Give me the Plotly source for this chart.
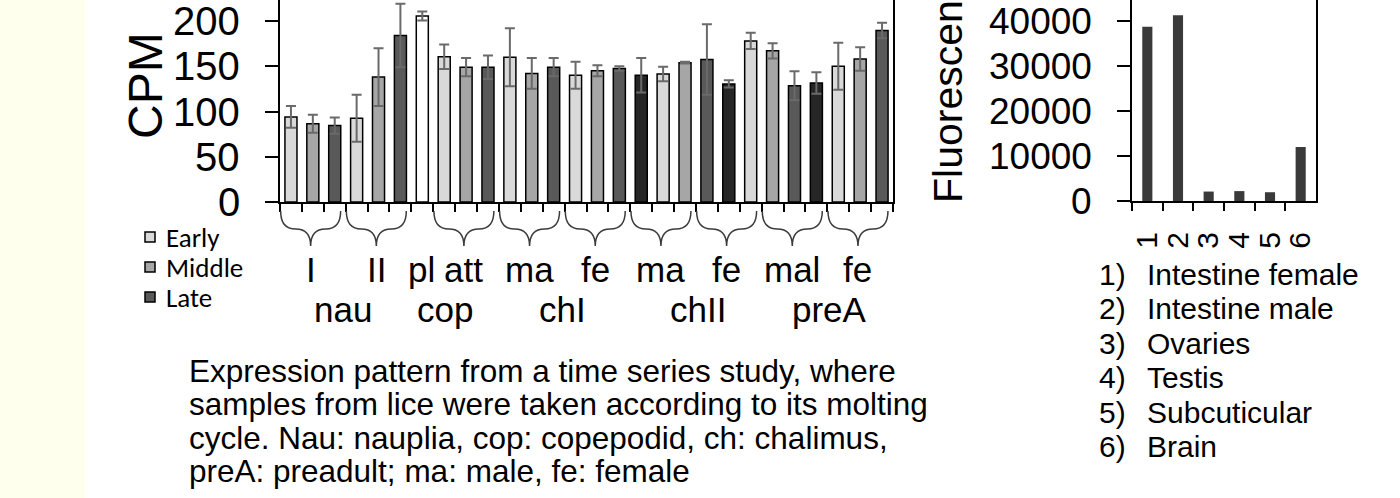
import plotly.graph_objects as go

W, H = 1400, 498

# ---------------- data ----------------
# 28 bars of the time series (CPM), with error bars
cpm_values = [94, 86.5, 84.5, 92.5, 138, 184, 205.5, 160.5, 149, 149,
              160, 142, 149, 140, 145, 147.5, 140, 141.5, 154, 157.5,
              130.5, 178, 167, 128.5, 131.5, 150, 158, 189.5]
cpm_errors = [12, 10, 9, 26, 32, 35, 5, 13.5, 10, 13,
              32, 17, 10, 15, 6, 2.5, 19, 8, 1, 39,
              4, 9, 8.5, 16, 12, 26, 13, 8.5]
# shade class of each bar: E=Early, M=Middle, L=Late, W=white, D=darkest
bar_shade = ["E", "M", "L", "E", "M", "L", "W", "E", "M", "L",
             "E", "M", "L", "E", "M", "L", "D", "E", "M", "L",
             "D", "E", "M", "L", "D", "E", "M", "L"]
legend_codes = ["E", "M", "L"]
legend_names = ["Early", "Middle", "Late"]
cpm_ticks = [0, 50, 100, 150, 200]

# sub-groups: (label, first bar index, number of bars)
sub_groups = [("I", 0, 3), ("II", 3, 3), ("pl", 6, 1), ("att", 7, 3),
              ("ma", 10, 3), ("fe", 13, 3), ("ma", 16, 3), ("fe", 19, 3),
              ("mal", 22, 3), ("fe", 25, 3)]
group_labels = ["nau", "cop", "chI", "chII", "preA"]

caption_lines = [
    "Expression pattern from a time series study, where",
    "samples from lice were taken according to its molting",
    "cycle. Nau: nauplia, cop: copepodid, ch: chalimus,",
    "preA: preadult; ma: male, fe: female",
]

tissue_ids = ["1", "2", "3", "4", "5", "6"]
tissue_names = ["Intestine female", "Intestine male", "Ovaries", "Testis",
                "Subcuticular", "Brain"]
fluorescence = [38700, 41300, 2100, 2200, 1950, 12000]
fluo_ticks = [0, 10000, 20000, 30000, 40000]

# ---------------- styles ----------------
shade_color = {"E": "#D9D9D9", "M": "#A6A6A6", "L": "#595959",
               "W": "#FFFFFF", "D": "#262626"}
ARIAL = "Liberation Sans, Arial, sans-serif"
CALIBRI = "Carlito, Lato, sans-serif"


def px(xp):
    return xp / W


def py(yp):
    return (H - yp) / H


fig = go.Figure()

for code in ["E", "M", "L", "W", "D"]:
    idx = [i for i, s in enumerate(bar_shade) if s == code]
    fig.add_trace(go.Bar(
        x=idx,
        y=[cpm_values[i] for i in idx],
        error_y=dict(type="data", array=[cpm_errors[i] for i in idx],
                     color="#6A6A6A", thickness=2, width=5),
        width=0.55,
        marker=dict(color=shade_color[code], line=dict(color="#000000", width=1.5)),
        name=code, showlegend=False,
        xaxis="x", yaxis="y",
    ))

fig.add_trace(go.Bar(
    x=tissue_ids, y=fluorescence, width=0.33,
    marker=dict(color="#3A3A3A", line=dict(width=0)),
    showlegend=False, xaxis="x2", yaxis="y2",
))

n_bars = len(cpm_values)
fig.update_layout(
    width=W, height=H, autosize=False, showlegend=False,
    margin=dict(l=0, r=0, t=0, b=0, pad=0, autoexpand=False),
    paper_bgcolor="white", plot_bgcolor="white",
    barmode="overlay",
    font=dict(family=ARIAL, color="#000000"),
    xaxis=dict(domain=[px(280), px(893)], range=[-0.5, n_bars - 0.5],
               tickvals=[i - 0.5 for i in range(n_bars + 1)], showticklabels=False,
               ticks="outside", ticklen=8, tickwidth=1.5, tickcolor="#000",
               showline=True, linecolor="#000", linewidth=2, automargin=False,
               showgrid=False, zeroline=False, fixedrange=True),
    yaxis=dict(domain=[py(202), 1], range=[0, 223.2],
               tickvals=cpm_ticks, showticklabels=False,
               ticks="outside", ticklen=13, tickwidth=2, tickcolor="#000",
               automargin=False,
               showline=True, mirror=True, linecolor="#000", linewidth=2,
               showgrid=False, zeroline=False),
    xaxis2=dict(domain=[px(1132), px(1316)], anchor="y2", type="category",
                tickmode="array", tickvals=tissue_ids, ticktext=tissue_ids,
                tickson="boundaries", ticks="outside", ticklen=8, tickwidth=1.5,
                tickcolor="#000", tickangle=-90, ticklabelstandoff=17,
                tickfont=dict(size=30, family=ARIAL), automargin=False,
                ticklabeloverflow="allow",
                showline=True, linecolor="#000", linewidth=2,
                showgrid=False, zeroline=False),
    yaxis2=dict(domain=[py(201), 1], anchor="x2", range=[0, 44667],
                tickvals=fluo_ticks, showticklabels=False,
                ticks="outside", ticklen=13, tickwidth=2, tickcolor="#000",
                automargin=False,
                showline=True, mirror=True, linecolor="#000", linewidth=2,
                showgrid=False, zeroline=False),
)

shapes = [dict(type="rect", xref="paper", yref="paper", x0=0, x1=px(85), y0=0, y1=1,
               fillcolor="#FFFFEE", line=dict(width=0), layer="below")]
annotations = []

# y tick labels (placed through the axes' own scales)
for v in cpm_ticks:
    annotations.append(dict(x=px(242), y=v, xref="paper", yref="y", text=str(v),
                            showarrow=False, xanchor="right", yanchor="middle",
                            font=dict(size=40, family=ARIAL)))
for v in fluo_ticks:
    annotations.append(dict(x=px(1094), y=v, xref="paper", yref="y2", text=str(v),
                            showarrow=False, xanchor="right", yanchor="middle",
                            font=dict(size=37, family=ARIAL)))

# legend (Early / Middle / Late)
for k, (code, name) in enumerate(zip(legend_codes, legend_names)):
    cy = 237 + 30 * k
    shapes.append(dict(type="rect", xref="paper", yref="paper",
                       x0=px(145), x1=px(155), y0=py(cy + 5), y1=py(cy - 5),
                       fillcolor=shade_color[code], line=dict(color="#000", width=1.5)))
    annotations.append(dict(x=px(164), y=py(cy), xref="paper", yref="paper", text=name,
                            showarrow=False, xanchor="left", yanchor="middle",
                            font=dict(size=27, family=CALIBRI)))

# braces and sub-labels
y0, ym, y2 = py(211), py(229), py(246)
for label, start, n in sub_groups:
    if n > 1:
        c = start + (n - 1) / 2 - 0.1
        half = 1.37
        L, R = c - half, c + half
        m1, m2 = (L + c) / 2, (c + R) / 2
        path = (f"M {L},{y0} Q {L},{ym} {m1},{ym} Q {c},{ym} {c},{y2} "
                f"Q {c},{ym} {m2},{ym} Q {R},{ym} {R},{y0}")
        shapes.append(dict(type="path", xref="x", yref="paper", path=path,
                           line=dict(color="#3C3C3C", width=1.5)))
    else:
        c = start - 0.05
    annotations.append(dict(x=c, y=py(269), xref="x", yref="paper", text=label,
                            showarrow=False, xanchor="center", yanchor="middle",
                            font=dict(size=35, family=ARIAL)))

group_x = [2.4, 7.05, 12.4, 18.6, 24.6]
for gx, g in zip(group_x, group_labels):
    annotations.append(dict(x=gx, y=py(309), xref="x", yref="paper", text=g,
                            showarrow=False, xanchor="center", yanchor="middle",
                            font=dict(size=35, family=ARIAL)))

# axis titles
annotations.append(dict(x=px(145), y=py(86), xref="paper", yref="paper", text="CPM",
                        textangle=-90, showarrow=False, xanchor="center", yanchor="middle",
                        font=dict(size=48, family=ARIAL)))
annotations.append(dict(x=px(948), y=py(205), xref="paper", yref="paper",
                        text="Fluorescence", textangle=-90, showarrow=False,
                        xanchor="center", yanchor="bottom",
                        font=dict(size=41, family=ARIAL)))

# caption
for k, line in enumerate(caption_lines):
    annotations.append(dict(x=px(187), y=py(371 + 33.3 * k), xref="paper", yref="paper",
                            text=line, showarrow=False, xanchor="left", yanchor="middle",
                            font=dict(size=31.5, family=ARIAL)))

# tissue key
for k, (tid, name) in enumerate(zip(tissue_ids, tissue_names)):
    yy = py(274 + 34.5 * k)
    annotations.append(dict(x=px(1097), y=yy, xref="paper", yref="paper",
                            text=f"{tid})", showarrow=False, xanchor="left",
                            yanchor="middle", font=dict(size=30, family=ARIAL)))
    annotations.append(dict(x=px(1145), y=yy, xref="paper", yref="paper",
                            text=name, showarrow=False, xanchor="left",
                            yanchor="middle", font=dict(size=30, family=ARIAL)))

fig.update_layout(shapes=shapes, annotations=annotations)
fig.write_html("out.html")
